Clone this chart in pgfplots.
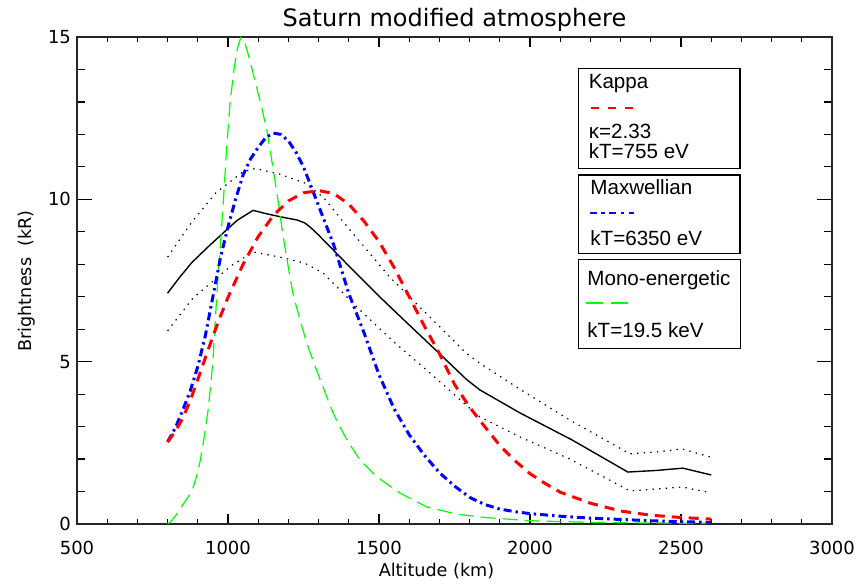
\documentclass[border=0pt]{standalone}
\usepackage{pgfplots}
\pgfplotsset{compat=1.18}
\usepackage{pgfplotstable}
\usepackage{fontspec}
\setmainfont{DejaVu Sans}
\newfontfamily\legfont{Liberation Sans}

\pgfplotstableread{
x y
800 7.11
840 7.6
880 8.05
930 8.5
980 8.93
1030 9.35
1083 9.66
1130 9.55
1180 9.45
1230 9.36
1255 9.27
1275 9.12
1300 8.9
1400 7.95
1503 6.99
1600 6.13
1700 5.25
1790 4.45
1834 4.13
1967 3.42
2139 2.59
2324 1.6
2420 1.65
2506 1.72
2600 1.51
}\tabObs

\pgfplotstableread{
x y
800 8.22
880 9.3
960 10.2
1050 10.85
1090 10.95
1170 10.78
1255 10.5
1315 10.07
1400 9.1
1536 7.6
1669 6.37
1790 5.25
1834 4.95
1967 4.15
2132 3.2
2331 2.16
2420 2.22
2503 2.31
2600 2.06
}\tabUp

\pgfplotstableread{
x y
800 5.95
884 6.96
947 7.45
1010 7.95
1083 8.38
1172 8.22
1255 8.03
1315 7.73
1447 6.5
1550 5.6
1669 4.65
1790 3.65
1834 3.3
1967 2.68
2132 2.0
2331 1.02
2420 1.08
2503 1.14
2600 0.96
}\tabLo

\pgfplotstableread{
x y
800 2.52
825 2.85
850 3.25
875 3.8
900 4.45
925 5.12
950 5.78
975 6.4
1000 6.98
1050 8.0
1100 8.85
1150 9.5
1200 9.95
1250 10.2
1300 10.27
1350 10.18
1400 9.85
1450 9.33
1500 8.7
1550 7.9
1600 7.0
1650 6.1
1700 5.25
1750 4.3
1800 3.6
1850 3.0
1900 2.42
1950 1.95
2000 1.55
2050 1.25
2100 0.98
2200 0.64
2300 0.4
2400 0.27
2500 0.2
2600 0.15
}\tabKap

\pgfplotstableread{
x y
800 2.53
825 2.95
850 3.5
875 4.1
900 4.85
925 5.8
950 7.0
975 8.2
1000 9.15
1025 10.0
1050 10.75
1075 11.25
1100 11.6
1125 11.9
1150 12.04
1175 12.0
1200 11.8
1225 11.45
1250 11.0
1300 9.8
1350 8.6
1400 7.1
1450 5.9
1500 4.6
1550 3.55
1600 2.75
1650 2.12
1700 1.58
1750 1.17
1800 0.82
1850 0.6
1900 0.46
1950 0.38
2000 0.32
2100 0.24
2200 0.18
2300 0.14
2400 0.1
2500 0.07
2600 0.05
}\tabMax

\pgfplotstableread{
x y
800 0.0
815 0.12
830 0.3
851 0.6
866 0.8
880 1.0
894 1.4
907 1.9
920 2.6
934 3.5
943 4.3
950 5.0
958 6.3
967 7.6
975 8.6
985 10.0
995 11.5
1007 13.0
1020 14.0
1030 14.6
1042 14.98
1055 14.85
1066 14.5
1080 14.0
1096 13.4
1110 12.9
1129 12.1
1145 11.2
1162 10.2
1182 8.9
1200 7.9
1215 7.1
1238 6.3
1261 5.57
1281 5.05
1305 4.45
1330 3.85
1348 3.42
1370 3.0
1394 2.59
1437 1.97
1493 1.45
1570 0.95
1659 0.52
1760 0.3
1850 0.2
2000 0.1
2200 0.05
2400 0.03
2600 0.02
}\tabMono

\begin{document}
\begin{tikzpicture}
\useasboundingbox (-38.5pt,-31.5pt) rectangle (390.5pt,262pt);
\begin{axis}[
  at={(0,0)}, anchor=south west,
  scale only axis, width=377.5pt, height=243.5pt,
  xmin=500, xmax=3000, ymin=0, ymax=15,
  xtick={500,1000,1500,2000,2500,3000},
  ytick={0,5,10,15},
  minor x tick num=4, minor y tick num=4,
  tick align=inside,
  xtick style={/pgfplots/major tick length=4.87pt, /pgfplots/minor tick length=2.43pt, line width=0.6pt, black},
  ytick style={/pgfplots/major tick length=7.55pt, /pgfplots/minor tick length=3.78pt, line width=0.6pt, black},
  axis line style={line width=0.8pt, black!85},
  tick label style={font=\fontsize{9}{10}\selectfont},
  /pgf/number format/assume math mode=true,
  /pgf/number format/1000 sep={},
  xticklabel style={anchor=base, yshift=-15.5pt},
  yticklabel style={xshift=0.5pt},
]
\addplot[black, line width=0.7pt] table {\tabObs};
\addplot[black, line width=0.6pt, dash pattern=on 0.7pt off 2.6pt] table {\tabUp};
\addplot[black, line width=0.6pt, dash pattern=on 0.7pt off 2.6pt] table {\tabLo};
\addplot[green, line width=0.6pt, dash pattern=on 7.5pt off 3.5pt] table {\tabMono};
\addplot[blue, line width=1.5pt, dash pattern=on 4pt off 2pt on 1.2pt off 2pt] table {\tabMax};
\addplot[red, line width=1.5pt, dash pattern=on 5pt off 3.5pt] table {\tabKap};
\end{axis}

% title and axis labels
\node[anchor=base, font=\fontsize{12}{14}\selectfont] at (188.75pt,248.65pt) {Saturn modified atmosphere};
\node[anchor=base, font=\fontsize{8.8}{10}\selectfont] at (179.75pt,-26.3pt) {Altitude (km)};
\node[anchor=base, rotate=90, font=\fontsize{8.8}{10}\selectfont] at (-22.5pt,121.5pt) {Brightness\ \ (kR)};

% legend boxes
\draw[line width=0.75pt] (250.7pt,177.8pt) rectangle (331.5pt,227.8pt);
\draw[line width=0.75pt] (250.7pt,135.3pt) rectangle (331.5pt,174.5pt);
\draw[line width=0.75pt] (250.7pt,87.8pt) rectangle (331.8pt,132.3pt);
\begin{scope}[every node/.style={anchor=base west, inner sep=0pt, font=\legfont\fontsize{10.3}{12}\selectfont}]
\node at (255.7pt,217.85pt) {Kappa};
\node at (255.7pt,192.5pt) {κ=2.33};
\node at (255.7pt,182.5pt) {kT=755 eV};
\node at (256.5pt,164.8pt) {Maxwellian};
\node at (256.5pt,139.2pt) {kT=6350 eV};
\node at (255pt,119pt) {Mono-energetic};
\node at (255pt,93.2pt) {kT=19.5 keV};
\end{scope}
\draw[red, line width=1.1pt, dash pattern=on 4.2pt off 4.2pt] (257pt,207.8pt) -- (278.5pt,207.8pt);
\draw[blue, line width=1.1pt, dash pattern=on 3.3pt off 2.4pt on 1.6pt off 2.4pt] (256.5pt,155.3pt) -- (278.5pt,155.3pt);
\draw[green, line width=1.1pt, dash pattern=on 8.5pt off 4pt] (254.5pt,110.3pt) -- (275.5pt,110.3pt);
\end{tikzpicture}
\end{document}
